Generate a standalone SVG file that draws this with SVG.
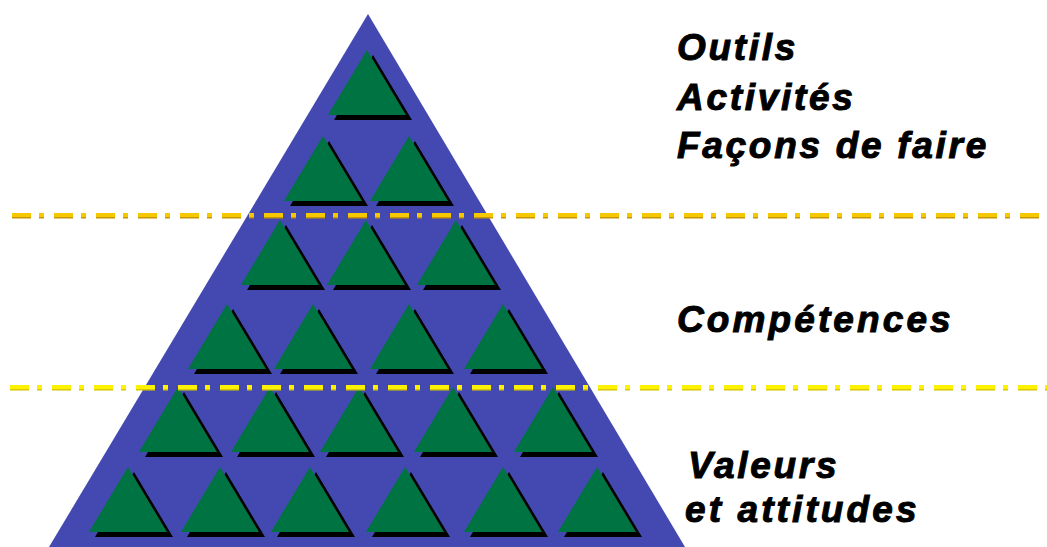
<svg xmlns="http://www.w3.org/2000/svg" xmlns:xlink="http://www.w3.org/1999/xlink" width="1047" height="547" viewBox="0 0 1047 547">
  <style>
    .lbl { font-family: "Liberation Sans", Arial, sans-serif; font-weight: bold; font-style: italic; font-size: 37px; letter-spacing: 2.7px; fill: #000; stroke: #000; stroke-width: 1; }
    .dash { fill: none; stroke-width: 4; stroke-dasharray: 19 8 5 10; }
  </style>
  <defs>
    <g id="tri">
      <polygon points="6,5 45,70 -33,70" fill="#000"/>
      <polygon points="0,0 39,65 -39,65" fill="#007342"/>
    </g>
  </defs>
  <rect width="1047" height="547" fill="#fff"/>
  <g id="pyramid">
    <polygon points="368,14 49,547 685,547" fill="#4349b1"/>
  </g>
  <g id="triangles">
    <use xlink:href="#tri" x="367" y="50"/>
    <use xlink:href="#tri" x="323" y="136"/>
    <use xlink:href="#tri" x="409" y="136"/>
    <use xlink:href="#tri" x="280" y="220"/>
    <use xlink:href="#tri" x="366" y="220"/>
    <use xlink:href="#tri" x="456" y="220"/>
    <use xlink:href="#tri" x="227" y="304"/>
    <use xlink:href="#tri" x="313" y="304"/>
    <use xlink:href="#tri" x="409" y="304"/>
    <use xlink:href="#tri" x="503" y="304"/>
    <use xlink:href="#tri" x="178" y="387"/>
    <use xlink:href="#tri" x="270" y="387"/>
    <use xlink:href="#tri" x="359" y="387"/>
    <use xlink:href="#tri" x="453" y="387"/>
    <use xlink:href="#tri" x="553" y="387"/>
    <use xlink:href="#tri" x="128" y="467"/>
    <use xlink:href="#tri" x="220" y="467"/>
    <use xlink:href="#tri" x="310" y="467"/>
    <use xlink:href="#tri" x="405" y="467"/>
    <use xlink:href="#tri" x="503" y="467"/>
    <use xlink:href="#tri" x="597" y="467"/>
  </g>
  <g id="separators">
    <line class="dash" x1="12" y1="216.5" x2="1047" y2="216.5" stroke="#c89600"/>
    <line class="dash" x1="12" y1="215" x2="1047" y2="215" stroke="#f5c800"/>
    <line class="dash" x1="10" y1="388.5" x2="1047" y2="388.5" stroke="#d8c800"/>
    <line class="dash" x1="10" y1="387" x2="1047" y2="387" stroke="#fff200"/>
  </g>
  <g id="label-top">
    <text class="lbl" x="677" y="60">Outils</text>
    <text class="lbl" x="677" y="110">Activités</text>
    <text class="lbl" x="677" y="158">Façons de faire</text>
  </g>
  <g id="label-middle">
    <text class="lbl" x="677" y="332" style="letter-spacing:3.1px">Compétences</text>
  </g>
  <g id="label-bottom">
    <text class="lbl" x="688" y="478">Valeurs</text>
    <text class="lbl" x="685" y="522" style="letter-spacing:3.1px">et attitudes</text>
  </g>
</svg>
